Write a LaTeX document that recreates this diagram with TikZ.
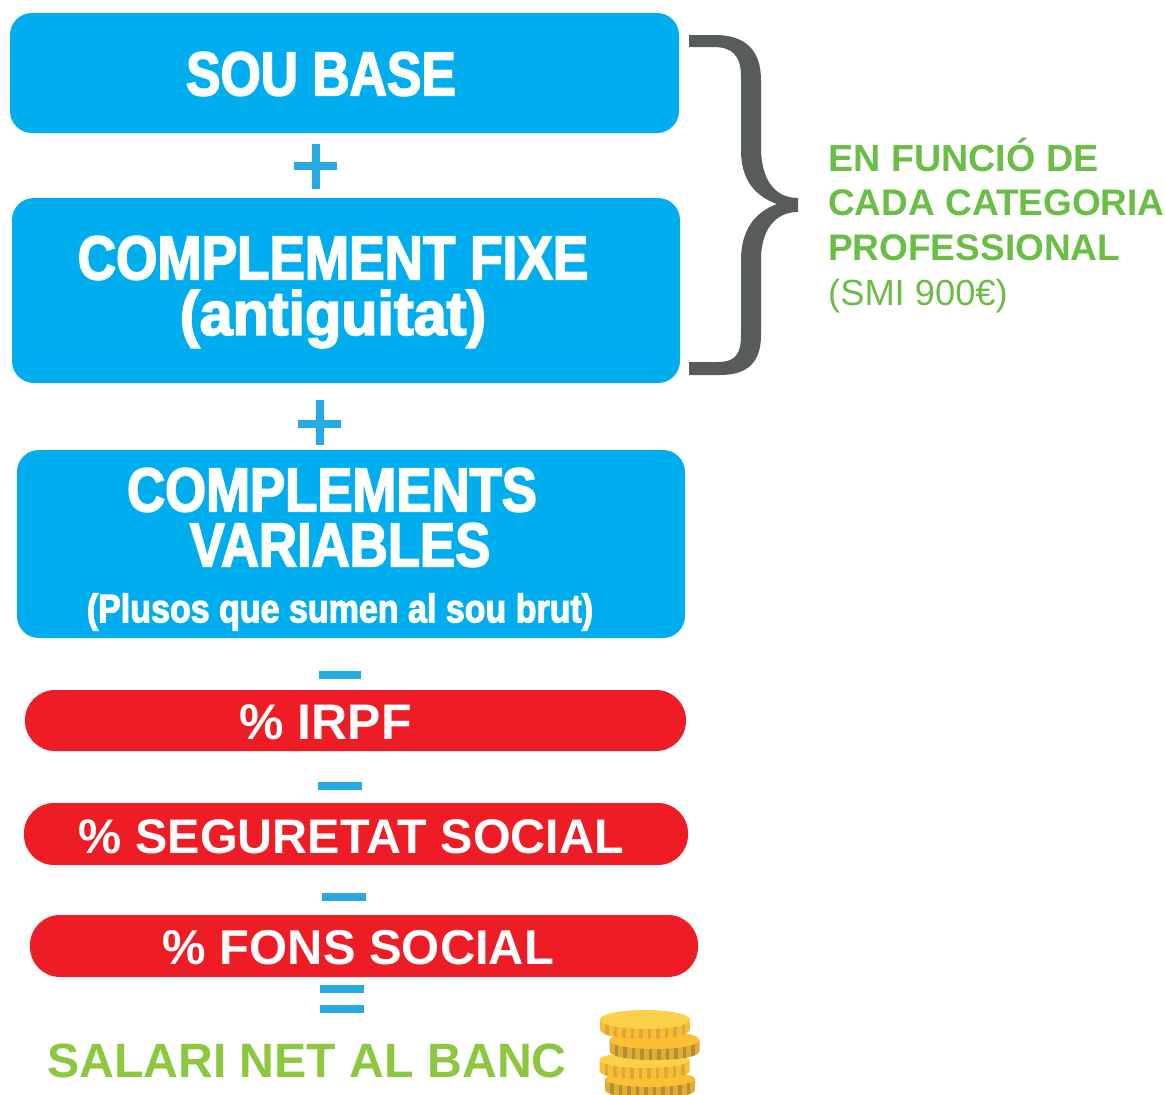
\documentclass[tikz,border=0pt]{standalone}
\usepackage{fontspec}
\setmainfont{Liberation Sans}
\newfontfamily\cond[FakeStretch=0.85,FakeBold=2.6]{Liberation Sans Bold}
\definecolor{cblue}{HTML}{00AEEF}
\definecolor{cred}{HTML}{EE1C25}
\definecolor{cop}{HTML}{27A9E1}
\definecolor{cgreen}{HTML}{6ABD45}
\definecolor{cnet}{HTML}{8DC63F}
\definecolor{cgrey}{HTML}{575B5B}
\definecolor{ctopa}{HTML}{FDD049}
\definecolor{csidea}{HTML}{F6BE37}
\definecolor{cstra}{HTML}{DDA834}
\definecolor{ctopb}{HTML}{FBBF36}
\definecolor{csideb}{HTML}{DDAD3A}
\definecolor{cstrb}{HTML}{B58C30}
% centre x, centre y, ellipse radius, thickness, top, side, stripe
\newcommand{\coin}[7]{%
  \begin{scope}
    \path[clip] (#1-45,#2) -- (#1-45,#2+#4) .. controls (#1-45,#2+#4+#3*1.333) and (#1+45,#2+#4+#3*1.333) .. (#1+45,#2+#4) -- (#1+45,#2) -- cycle;
    \fill[#6] (#1-46,#2-1) rectangle (#1+46,#2+#4+#3+2);
    \foreach \s in {-38,-29.5,-21,-12.5,-4,4.5,13,21.5,30,38.5}{\fill[#7] (#1+\s-1.8,#2) rectangle (#1+\s+1.8,#2+#4+#3+2);}
  \end{scope}
  \fill[#5] (#1,#2) ellipse[x radius=45,y radius=#3];
}
\tikzset{
  x=1pt,y=-1pt,
  bluebox/.style={fill=cblue,rounded corners=22},
  redbox/.style={fill=cred,rounded corners=30},
  op/.style={fill=cop},
  bl/.style={text=white,align=center,inner sep=0pt},
  rl/.style={text=white,inner sep=0pt},
  gl/.style={text=cgreen,anchor=base west,inner sep=0pt},
}
\begin{document}
\begin{tikzpicture}
\useasboundingbox[fill=white] (0,0) rectangle (1165,1095);
\fill[bluebox] (10,13) rectangle (679,133);
\fill[bluebox] (12,198) rectangle (680,383);
\fill[bluebox] (17,450) rectangle (685,638);
\fill[redbox] (25,690) rectangle (686,751);
\fill[redbox] (24,803) rectangle (688,865);
\fill[redbox] (30,915) rectangle (698,977);
\node[bl,font=\cond\fontsize{62}{62}\selectfont] (sou) at (321,74) {\scalebox{.98}[1]{SOU BASE}};
\node[bl,font=\cond\fontsize{62}{62}\selectfont] (fixe) at (333,258) {\scalebox{1.008}[1]{COMPLEMENT FIXE}};
\node[bl,font=\cond\fontsize{62}{62}\selectfont] (ant) at (333,319) {\scalebox{1.125}[1]{(antiguitat)}};
\node[bl,font=\cond\fontsize{62}{62}\selectfont] (var1) at (332,490) {COMPLEMENTS};
\node[bl,font=\cond\fontsize{62}{62}\selectfont] (var2) at (340,545) {VARIABLES};
\node[bl,font=\cond\fontsize{40}{40}\selectfont] (plus) at (340,612) {(Plusos que sumen al sou brut)};
\node[rl,font=\fontsize{50}{50}\selectfont\bfseries] (irpf) at (325.5,722) {\% IRPF};
\node[rl,font=\fontsize{48.5}{48.5}\selectfont\bfseries] (ss) at (351.5,837) {\% SEGURETAT SOCIAL};
\node[rl,font=\fontsize{48.9}{48.9}\selectfont\bfseries] (fs) at (358.5,948) {\% FONS SOCIAL};
% operators
\fill[op] (294,162) rectangle (337,170); \fill[op] (312,144) rectangle (320,189);
\fill[op] (298,420) rectangle (341,428); \fill[op] (316,400) rectangle (324,445);
\fill[op] (319,671) rectangle (361,679);
\fill[op] (318,782) rectangle (362,790);
\fill[op] (322,893) rectangle (366,901);
\fill[op] (320,985) rectangle (364,993);
\fill[op] (320,1005) rectangle (364,1013);
% brace
\fill[cgrey] (689,35) -- (715,35) .. controls (745,35) and (761,50) .. (761,80) -- (761,147)
  .. controls (761,180) and (775,198) .. (798,198) -- (798,212)
  .. controls (775,212) and (761,230) .. (761,260) -- (761,335)
  .. controls (761,362) and (748,375) .. (720,375) -- (689,375) -- (689,362) -- (717,362)
  .. controls (735,362) and (741,355) .. (741,335) -- (741,260)
  .. controls (741,230) and (755,212) .. (777,204)
  .. controls (755,196) and (741,180) .. (741,150) -- (741,77)
  .. controls (741,55) and (732,47) .. (713,47) -- (689,47) -- cycle;
\node[gl,font=\fontsize{37.7}{37.7}\selectfont\bfseries] (t1) at (828,171) {EN FUNCIÓ DE};
\node[gl,font=\fontsize{37}{37}\selectfont\bfseries] (t2) at (828,215) {CADA CATEGORIA};
\node[gl,font=\fontsize{37}{37}\selectfont\bfseries] (t3) at (828,260) {PROFESSIONAL};
\node[gl,font=\fontsize{36.3}{36.3}\selectfont] (t4) at (828,305) {(SMI 900€)};
\node[text=cnet,font=\fontsize{48.2}{48.2}\selectfont\bfseries,anchor=west,inner sep=0pt] (net) at (47,1061) {SALARI NET AL BANC};
% coins
\begin{scope}
\clip (0,0) rectangle (1165,1095);
\coin{650}{1079}{8}{11}{ctopb}{csideb}{cstrb}
\coin{644.5}{1060}{8}{11}{ctopa}{csidea}{cstra}
\coin{654.5}{1040}{9}{11}{ctopb}{csideb}{cstrb}
\coin{645}{1019.5}{9.5}{10}{ctopa}{csidea}{cstra}
\end{scope}
\end{tikzpicture}
\end{document}
